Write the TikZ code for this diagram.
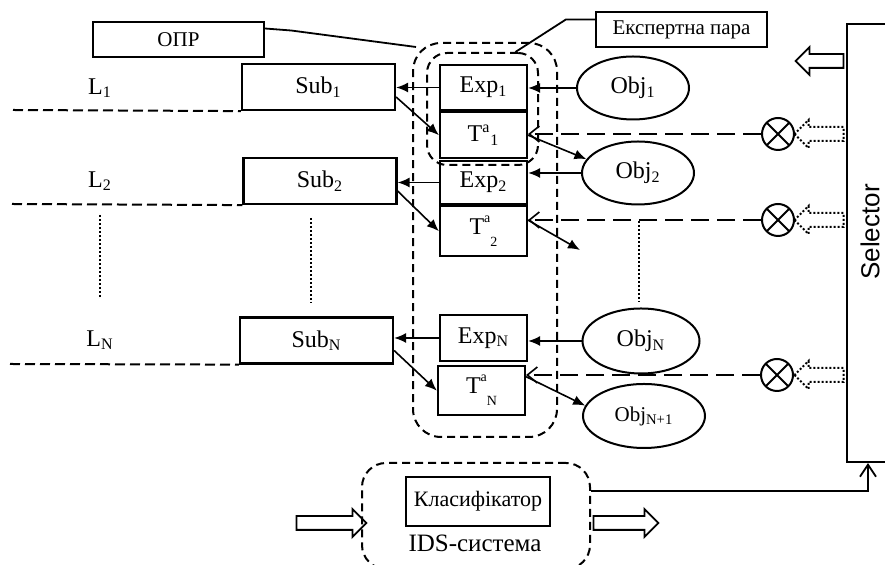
\documentclass[tikz,border=0pt]{standalone}
\usepackage{fontspec}
\setmainfont{Liberation Serif}
\newfontfamily\selfont{Liberation Sans}
\usepackage{tikz}
\usetikzlibrary{arrows.meta,shapes,positioning}
\tikzstyle{sub} = [rectangle, minimum width=76.5pt, minimum height=23pt, text centered, draw, line width=1.1pt, inner sep=0pt]
\tikzstyle{cell} = [rectangle, minimum width=43.5pt, minimum height=23pt, text centered, draw, line width=1.1pt, inner sep=0pt]
\tikzstyle{tag} = [rectangle, minimum width=85.5pt, minimum height=17.5pt, text centered, draw, line width=1.1pt, font=\fontsize{10.5}{12}\selectfont]
\tikzstyle{obj} = [ellipse, draw, line width=1pt, minimum width=56pt, minimum height=31.5pt, inner sep=0pt]
\tikzstyle{mixer} = [circle, draw, line width=1pt, minimum size=16pt, inner sep=0pt,
  path picture={\draw[line width=1pt] (path picture bounding box.north west) -- (path picture bounding box.south east)
    (path picture bounding box.south west) -- (path picture bounding box.north east);}]
\tikzstyle{pairbox} = [rectangle, draw, line width=1pt, dash pattern=on 4pt off 2.5pt, rounded corners=12pt]
\tikzstyle{hollow} = [single arrow, draw, line width=0.9pt, minimum width=0pt, inner sep=3pt, single arrow head extend=3.5pt, single arrow tip angle=90]
\tikzstyle{arrow} = [line width=0.8pt, -{Latex[length=6pt,width=5pt]}]
\tikzstyle{feed} = [line width=0.8pt, dash pattern=on 9pt off 4pt, -{Straight Barb[length=5pt,width=8pt]}]
\tikzstyle{levelline} = [line width=1pt, dash pattern=on 5pt off 2.5pt]
\tikzstyle{dotline} = [line width=1pt, dash pattern=on 1pt off 1pt]
\newcommand{\tidx}[1]{T\raisebox{6pt}{\scriptsize a}\raisebox{-6pt}{\scriptsize #1}}

\begin{document}
\begin{tikzpicture}[x=0.5pt, y=-0.5pt, font=\fontsize{12}{14}\selectfont]
\useasboundingbox (0,0) rectangle (885,565);

% expert pairs
\node (grp) [pairbox, minimum width=72pt, minimum height=197pt, rounded corners=14pt] at (485,240) {};
\node (pair) [pairbox, minimum width=55.5pt, minimum height=56pt, rounded corners=10pt] at (482.5,109) {};
\node (exp1) [cell, minimum height=22.5pt] at (483.5,87.5) {Exp\textsubscript{1}};
\node (t1) [cell, below=0pt of exp1] {T\textsuperscript{a}\textsubscript{1}};
\node (exp2) [cell, minimum height=21.5pt] at (483.5,182.5) {Exp\textsubscript{2}};
\node (t2) [cell, minimum height=25pt, below=0pt of exp2] {\tidx{2}};
\node (expN) [cell] at (483.5,338) {Exp\textsubscript{N}};
\node (tN) [cell, minimum height=24.5pt, below=1.5pt of expN, xshift=-1pt] {\tidx{N}};

% labels
\node (opr) [tag] at (178.5,39.5) {ОПР};
\node (pairlbl) [tag] at (681.5,29.5) {Експертна пара};

% levels
\node (l1) at (100,88) {L\textsubscript{1}};
\node (l2) at (100,181) {L\textsubscript{2}};
\node (lN) at (100,340) {L\textsubscript{N}};
\node (sub1) [sub] at (318.5,87) {Sub\textsubscript{1}};
\node (sub2) [sub] at (320,181) {Sub\textsubscript{2}};
\node (subN) [sub] at (316.5,340.5) {Sub\textsubscript{N}};

% objects
\node (obj1) [obj] at (633,88) {Obj\textsubscript{1}};
\node (obj2) [obj] at (638,173) {Obj\textsubscript{2}};
\node (objN) [obj, minimum width=58.5pt, minimum height=32.5pt] at (641,341) {Obj\textsubscript{N}};
\node (objM) [obj, minimum width=61pt, minimum height=32pt, font=\fontsize{10.5}{12}\selectfont] at (644,416) {Obj\textsubscript{N+1}};

% selector side
\node (m1) [mixer] at (778,134) {};
\node (m2) [mixer] at (778,220) {};
\node (m3) [mixer] at (777,375) {};
\node (sel) [rectangle, draw, line width=1.1pt, minimum width=38pt, minimum height=219pt] at (885,243) {};
\node (seltxt) [rotate=90, font=\selfont\fontsize{13}{15}\selectfont] at (870,232) {Selector};
\node (selout) [hollow, shape border rotate=180, minimum height=24pt] at (823,61) {};
\node (sig1) [hollow, dotline, shape border rotate=180, minimum height=24.5pt] at (822.5,134) {};
\node (sig2) [hollow, dotline, shape border rotate=180, minimum height=24.5pt] at (822.5,220) {};
\node (sig3) [hollow, dotline, shape border rotate=180, minimum height=24.5pt] at (822.5,375) {};

% IDS
\node (ids) [pairbox, minimum width=114pt, minimum height=53pt] at (476,516) {};
\node (clf) [rectangle, draw, line width=1.1pt, minimum width=72pt, minimum height=24.5pt, font=\fontsize{11}{13}\selectfont] at (478,501.5) {\raisebox{3pt}{Класифікатор}};
\node (idstxt) [font=\fontsize{12.5}{14}\selectfont] at (475,543) {IDS-система};
\node (idsin) [hollow, minimum height=35pt] at (328,523) {};
\node (idsout) [hollow, minimum height=32.5pt] at (622.5,523) {};
\coordinate (t2out) at (580,250);

\draw[arrow] (obj1.west) -- (obj1.west -| exp1.east);
\draw[arrow] (obj2.west) -- (obj2.west -| exp2.east);
\draw[arrow] (objN.west) -- (objN.west -| expN.east);
\draw[arrow] (exp1.west) -- (exp1.west -| sub1.east);
\draw[arrow] (exp2.west) -- (exp2.west -| sub2.east);
\draw[arrow] (expN.west) -- (expN.west -| subN.east);
\draw[arrow] ([yshift=-5pt]sub1.east) -- (t1.west);
\draw[arrow] ([yshift=-5pt]sub2.east) -- (t2.west);
\draw[arrow] ([yshift=-5pt]subN.east) -- (tN.west);
\draw[arrow] (t1.east) -- (obj2.165);
\draw[arrow] ([yshift=5.5pt]t2.east) -- (t2out);
\draw[arrow] ([yshift=7pt]tN.east) -- (objM.170);

\draw[feed] (m1.west) -- (m1.west -| t1.east);
\draw[feed] (m2.west) -- (m2.west -| t2.east);
\draw[feed] (m3.west) -- (m3.west -| tN.east);

\draw[levelline] (13,110) -- (sub1.south west);
\draw[levelline] (12,204) -- (sub2.south west);
\draw[levelline] (10,364) -- (subN.south west);
\draw[dotline] (100,215) -- (100,298);
\draw[dotline] (311,218) -- (311,303);
\draw[dotline] (639,221) -- (639,302);

\draw[line width=0.9pt] ([yshift=5.5pt]opr.east) -- ++(26,2) -- ([shift={(2pt,-2.5pt)}]grp.north west);
\draw[line width=0.9pt] ([yshift=5pt]pairlbl.west) -- ++(-29,0) -- (pair.60);
\draw[line width=0.9pt, -{Straight Barb[length=6pt,width=8pt]}] ([yshift=12.5pt]ids.east) -| ([xshift=-8.5pt]sel.south);
\end{tikzpicture}
\end{document}
